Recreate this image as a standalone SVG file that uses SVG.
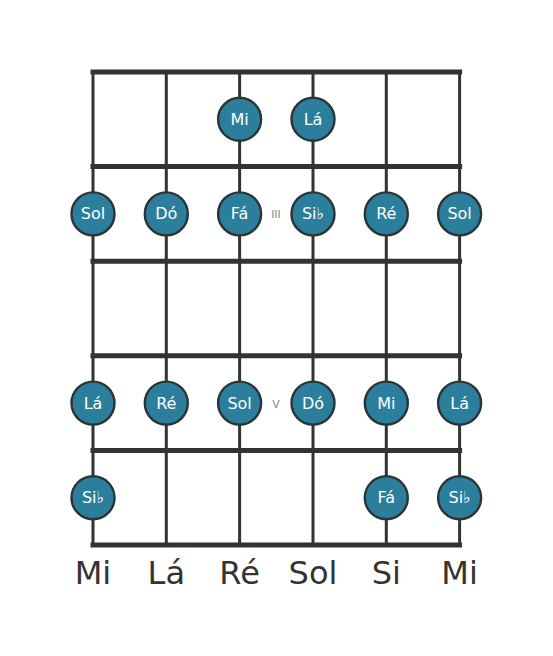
<svg xmlns="http://www.w3.org/2000/svg" width="553" height="656" viewBox="0 0 553 656">
<style>
.fret{stroke:#333;stroke-width:5;stroke-linecap:square}
.str{stroke:#333;stroke-width:3}
.dot circle{fill:#2b7f9c;stroke:#2d3436;stroke-width:2.4}
.dot text{fill:#fff;font-family:"DejaVu Sans",sans-serif;font-size:16px;text-anchor:middle;dominant-baseline:central}
.mark{fill:#888;font-family:"DejaVu Sans",sans-serif;font-size:11px;text-anchor:middle;dominant-baseline:central}
.tun{fill:#333;font-family:"DejaVu Sans",sans-serif;font-size:32px;text-anchor:middle}
</style>
<rect width="553" height="656" fill="#fff"/>
<g id="connectors">
<line class="str" x1="93" y1="72" x2="93" y2="545"/>
<line class="str" x1="166.3" y1="72" x2="166.3" y2="545"/>
<line class="str" x1="239.6" y1="72" x2="239.6" y2="545"/>
<line class="str" x1="313" y1="72" x2="313" y2="545"/>
<line class="str" x1="386.3" y1="72" x2="386.3" y2="545"/>
<line class="str" x1="459.6" y1="72" x2="459.6" y2="545"/>
<line class="fret" x1="93" y1="72" x2="459.6" y2="72"/>
<line class="fret" x1="93" y1="166.6" x2="459.6" y2="166.6"/>
<line class="fret" x1="93" y1="261.2" x2="459.6" y2="261.2"/>
<line class="fret" x1="93" y1="355.8" x2="459.6" y2="355.8"/>
<line class="fret" x1="93" y1="450.4" x2="459.6" y2="450.4"/>
<line class="fret" x1="93" y1="545" x2="459.6" y2="545"/>
</g>
<text class="mark" x="276" y="214">III</text>
<text class="mark" x="276" y="404">V</text>
<g id="n1" class="dot"><circle cx="239.6" cy="119.3" r="21.5"/><text x="239.6" y="119.3">Mi</text></g>
<g id="n2" class="dot"><circle cx="313" cy="119.3" r="21.5"/><text x="313" y="119.3">Lá</text></g>
<g id="n3" class="dot"><circle cx="93" cy="213.9" r="21.5"/><text x="93" y="213.9">Sol</text></g>
<g id="n4" class="dot"><circle cx="166.3" cy="213.9" r="21.5"/><text x="166.3" y="213.9">Dó</text></g>
<g id="n5" class="dot"><circle cx="239.6" cy="213.9" r="21.5"/><text x="239.6" y="213.9">Fá</text></g>
<g id="n6" class="dot"><circle cx="313" cy="213.9" r="21.5"/><text x="313" y="213.9">Si♭</text></g>
<g id="n7" class="dot"><circle cx="386.3" cy="213.9" r="21.5"/><text x="386.3" y="213.9">Ré</text></g>
<g id="n8" class="dot"><circle cx="459.6" cy="213.9" r="21.5"/><text x="459.6" y="213.9">Sol</text></g>
<g id="n9" class="dot"><circle cx="93" cy="403.1" r="21.5"/><text x="93" y="403.1">Lá</text></g>
<g id="n10" class="dot"><circle cx="166.3" cy="403.1" r="21.5"/><text x="166.3" y="403.1">Ré</text></g>
<g id="n11" class="dot"><circle cx="239.6" cy="403.1" r="21.5"/><text x="239.6" y="403.1">Sol</text></g>
<g id="n12" class="dot"><circle cx="313" cy="403.1" r="21.5"/><text x="313" y="403.1">Dó</text></g>
<g id="n13" class="dot"><circle cx="386.3" cy="403.1" r="21.5"/><text x="386.3" y="403.1">Mi</text></g>
<g id="n14" class="dot"><circle cx="459.6" cy="403.1" r="21.5"/><text x="459.6" y="403.1">Lá</text></g>
<g id="n15" class="dot"><circle cx="93" cy="497.7" r="21.5"/><text x="93" y="497.7">Si♭</text></g>
<g id="n16" class="dot"><circle cx="386.3" cy="497.7" r="21.5"/><text x="386.3" y="497.7">Fá</text></g>
<g id="n17" class="dot"><circle cx="459.6" cy="497.7" r="21.5"/><text x="459.6" y="497.7">Si♭</text></g>
<g id="tuning">
<text class="tun" x="93" y="584">Mi</text>
<text class="tun" x="166.3" y="584">Lá</text>
<text class="tun" x="239.6" y="584">Ré</text>
<text class="tun" x="313" y="584">Sol</text>
<text class="tun" x="386.3" y="584">Si</text>
<text class="tun" x="459.6" y="584">Mi</text>
</g>
</svg>
